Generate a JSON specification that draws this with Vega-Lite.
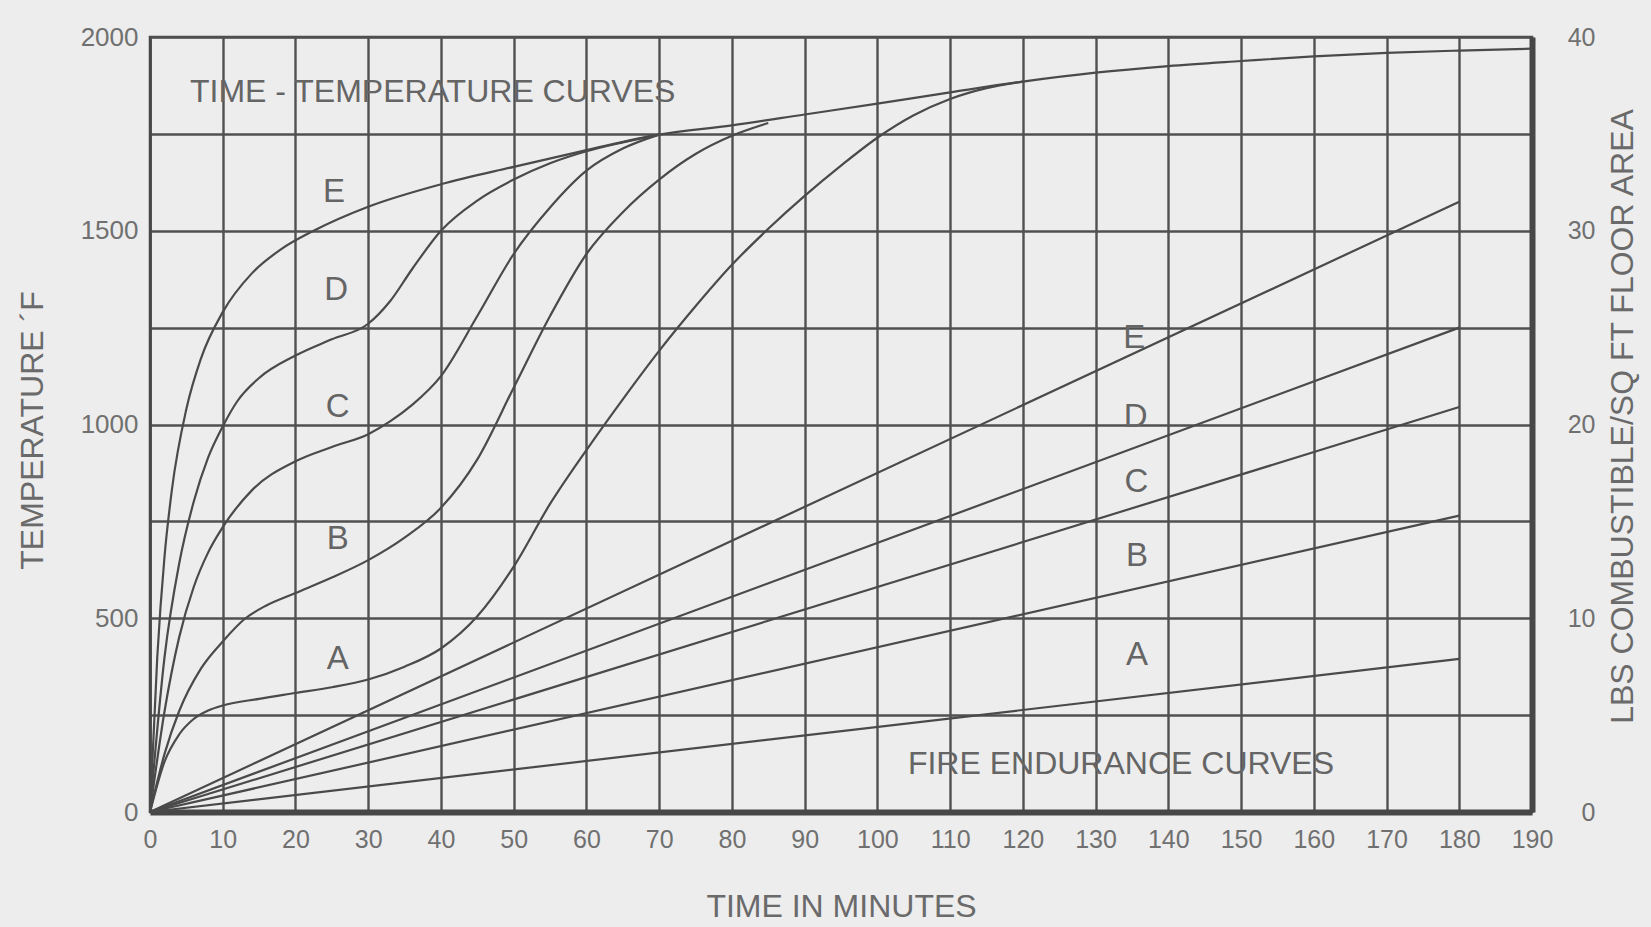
{
  "$schema": "https://vega.github.io/schema/vega-lite/v6.json",
  "width": 1382,
  "height": 775,
  "autosize": {"type": "none"},
  "padding": {"left": 150, "top": 37, "right": 119, "bottom": 115},
  "background": "#ededed",
  "config": {
    "font": "Liberation Sans",
    "view": {"stroke": "#474747", "strokeWidth": 2.5}
  },
  "datasets": {
    "timetemp": [
      {"curve": "E", "t": 0, "temp": 0}, {"curve": "E", "t": 1, "temp": 400}, {"curve": "E", "t": 2, "temp": 660}, {"curve": "E", "t": 3, "temp": 830}, {"curve": "E", "t": 5, "temp": 1040}, {"curve": "E", "t": 7, "temp": 1170}, {"curve": "E", "t": 10, "temp": 1290}, {"curve": "E", "t": 14, "temp": 1390}, {"curve": "E", "t": 18, "temp": 1452}, {"curve": "E", "t": 22.5, "temp": 1500}, {"curve": "E", "t": 30, "temp": 1562}, {"curve": "E", "t": 40, "temp": 1620}, {"curve": "E", "t": 50, "temp": 1665}, {"curve": "E", "t": 60, "temp": 1708}, {"curve": "E", "t": 70, "temp": 1748}, {"curve": "E", "t": 80, "temp": 1772}, {"curve": "E", "t": 90, "temp": 1800}, {"curve": "E", "t": 100, "temp": 1828}, {"curve": "E", "t": 110, "temp": 1857}, {"curve": "E", "t": 120, "temp": 1885}, {"curve": "E", "t": 130, "temp": 1908}, {"curve": "E", "t": 140, "temp": 1925}, {"curve": "E", "t": 150, "temp": 1938}, {"curve": "E", "t": 160, "temp": 1950}, {"curve": "E", "t": 170, "temp": 1959}, {"curve": "E", "t": 180, "temp": 1965}, {"curve": "E", "t": 190, "temp": 1970},
      {"curve": "D", "t": 0, "temp": 0}, {"curve": "D", "t": 2, "temp": 400}, {"curve": "D", "t": 4, "temp": 640}, {"curve": "D", "t": 6, "temp": 800}, {"curve": "D", "t": 8, "temp": 915}, {"curve": "D", "t": 10, "temp": 995}, {"curve": "D", "t": 12, "temp": 1060}, {"curve": "D", "t": 15, "temp": 1120}, {"curve": "D", "t": 20, "temp": 1178}, {"curve": "D", "t": 25, "temp": 1220}, {"curve": "D", "t": 30, "temp": 1260}, {"curve": "D", "t": 33, "temp": 1318}, {"curve": "D", "t": 36, "temp": 1400}, {"curve": "D", "t": 40, "temp": 1500}, {"curve": "D", "t": 45, "temp": 1578}, {"curve": "D", "t": 50, "temp": 1632}, {"curve": "D", "t": 55, "temp": 1674}, {"curve": "D", "t": 60, "temp": 1705}, {"curve": "D", "t": 65, "temp": 1728}, {"curve": "D", "t": 70, "temp": 1748},
      {"curve": "C", "t": 0, "temp": 0}, {"curve": "C", "t": 2, "temp": 260}, {"curve": "C", "t": 4, "temp": 450}, {"curve": "C", "t": 6, "temp": 580}, {"curve": "C", "t": 8, "temp": 670}, {"curve": "C", "t": 10, "temp": 735}, {"curve": "C", "t": 14, "temp": 830}, {"curve": "C", "t": 20, "temp": 905}, {"curve": "C", "t": 25, "temp": 942}, {"curve": "C", "t": 30, "temp": 975}, {"curve": "C", "t": 33, "temp": 1008}, {"curve": "C", "t": 36, "temp": 1050}, {"curve": "C", "t": 40, "temp": 1125}, {"curve": "C", "t": 45, "temp": 1280}, {"curve": "C", "t": 50, "temp": 1440}, {"curve": "C", "t": 55, "temp": 1560}, {"curve": "C", "t": 60, "temp": 1655}, {"curve": "C", "t": 65, "temp": 1712}, {"curve": "C", "t": 70, "temp": 1748},
      {"curve": "B", "t": 0, "temp": 0}, {"curve": "B", "t": 2, "temp": 150}, {"curve": "B", "t": 4, "temp": 260}, {"curve": "B", "t": 7, "temp": 370}, {"curve": "B", "t": 10, "temp": 440}, {"curve": "B", "t": 13, "temp": 498}, {"curve": "B", "t": 16, "temp": 533}, {"curve": "B", "t": 20, "temp": 565}, {"curve": "B", "t": 25, "temp": 605}, {"curve": "B", "t": 30, "temp": 650}, {"curve": "B", "t": 35, "temp": 708}, {"curve": "B", "t": 40, "temp": 785}, {"curve": "B", "t": 45, "temp": 910}, {"curve": "B", "t": 50, "temp": 1095}, {"curve": "B", "t": 55, "temp": 1280}, {"curve": "B", "t": 60, "temp": 1440}, {"curve": "B", "t": 65, "temp": 1548}, {"curve": "B", "t": 70, "temp": 1632}, {"curve": "B", "t": 75, "temp": 1698}, {"curve": "B", "t": 80, "temp": 1745}, {"curve": "B", "t": 85, "temp": 1778},
      {"curve": "A", "t": 0, "temp": 0}, {"curve": "A", "t": 2, "temp": 130}, {"curve": "A", "t": 4, "temp": 200}, {"curve": "A", "t": 6, "temp": 240}, {"curve": "A", "t": 8, "temp": 262}, {"curve": "A", "t": 10, "temp": 275}, {"curve": "A", "t": 15, "temp": 292}, {"curve": "A", "t": 20, "temp": 307}, {"curve": "A", "t": 25, "temp": 322}, {"curve": "A", "t": 30, "temp": 342}, {"curve": "A", "t": 35, "temp": 375}, {"curve": "A", "t": 40, "temp": 422}, {"curve": "A", "t": 45, "temp": 505}, {"curve": "A", "t": 50, "temp": 633}, {"curve": "A", "t": 55, "temp": 795}, {"curve": "A", "t": 60, "temp": 934}, {"curve": "A", "t": 65, "temp": 1065}, {"curve": "A", "t": 70, "temp": 1190}, {"curve": "A", "t": 75, "temp": 1305}, {"curve": "A", "t": 80, "temp": 1412}, {"curve": "A", "t": 85, "temp": 1505}, {"curve": "A", "t": 90, "temp": 1590}, {"curve": "A", "t": 95, "temp": 1668}, {"curve": "A", "t": 100, "temp": 1740}, {"curve": "A", "t": 105, "temp": 1798}, {"curve": "A", "t": 110, "temp": 1840}, {"curve": "A", "t": 115, "temp": 1868}, {"curve": "A", "t": 120, "temp": 1885}
    ],
    "endurance": [
      {"curve": "E", "t": 0, "lbs": 0}, {"curve": "E", "t": 180, "lbs": 31.5},
      {"curve": "D", "t": 0, "lbs": 0}, {"curve": "D", "t": 180, "lbs": 25},
      {"curve": "C", "t": 0, "lbs": 0}, {"curve": "C", "t": 180, "lbs": 20.9},
      {"curve": "B", "t": 0, "lbs": 0}, {"curve": "B", "t": 180, "lbs": 15.3},
      {"curve": "A", "t": 0, "lbs": 0}, {"curve": "A", "t": 180, "lbs": 7.9}
    ],
    "letters": [
      {"label": "E", "t": 25.3, "temp": 1600}, {"label": "D", "t": 25.6, "temp": 1348}, {"label": "C", "t": 25.8, "temp": 1044}, {"label": "B", "t": 25.8, "temp": 704}, {"label": "A", "t": 25.8, "temp": 395},
      {"label": "E", "t": 135.3, "temp": 1224}, {"label": "D", "t": 135.5, "temp": 1019}, {"label": "C", "t": 135.6, "temp": 852}, {"label": "B", "t": 135.7, "temp": 661}, {"label": "A", "t": 135.7, "temp": 404}
    ],
    "titles": [
      {"text": "TIME - TEMPERATURE CURVES", "t": 5.5, "temp": 1858},
      {"text": "FIRE ENDURANCE CURVES", "t": 104.2, "temp": 125}
    ]
  },
  "encoding": {
    "x": {
      "field": "t", "type": "quantitative",
      "scale": {"domain": [0, 190], "nice": false, "zero": false},
      "axis": {
        "values": [0, 10, 20, 30, 40, 50, 60, 70, 80, 90, 100, 110, 120, 130, 140, 150, 160, 170, 180, 190],
        "title": "TIME IN MINUTES",
        "grid": true, "gridColor": "#505050", "gridWidth": 2.4, "gridOpacity": 1,
        "domainColor": "#474747", "domainWidth": 6,
        "ticks": false,
        "labelFontSize": 25, "labelColor": "#707070", "labelPadding": 15, "labelFlush": false,
        "titleFontSize": 32, "titleFontWeight": "normal", "titleColor": "#6a6a6a",
        "titleY": 94, "titleBaseline": "middle"
      }
    }
  },
  "layer": [
    {
      "data": {"name": "timetemp"},
      "mark": {"type": "line", "interpolate": "monotone", "color": "#4a4a4a", "strokeWidth": 2.2},
      "encoding": {
        "y": {
          "field": "temp", "type": "quantitative",
          "scale": {"domain": [0, 2000], "nice": false},
          "axis": {
            "values": [0, 250, 500, 750, 1000, 1250, 1500, 1750, 2000],
            "labelExpr": "datum.value % 500 === 0 ? datum.value : ''",
            "title": "TEMPERATURE ´F",
            "grid": true, "gridColor": "#505050", "gridWidth": 2.4, "gridOpacity": 1,
            "domainColor": "#474747", "domainWidth": 2.5,
            "ticks": false,
            "labelFontSize": 26, "labelColor": "#707070", "labelPadding": 12,
            "titleFontSize": 32, "titleFontWeight": "normal", "titleColor": "#6a6a6a",
            "titleAngle": -90, "titleX": -118, "titleY": 393, "titleAlign": "center", "titleBaseline": "middle"
          }
        },
        "detail": {"field": "curve"}
      }
    },
    {
      "data": {"name": "endurance"},
      "mark": {"type": "line", "color": "#4a4a4a", "strokeWidth": 2.2},
      "encoding": {
        "y": {
          "field": "lbs", "type": "quantitative",
          "scale": {"domain": [0, 40], "nice": false},
          "axis": {
            "orient": "right",
            "values": [0, 10, 20, 30, 40],
            "title": "LBS COMBUSTIBLE/SQ FT FLOOR AREA",
            "grid": false,
            "domainColor": "#474747", "domainWidth": 6,
            "ticks": false,
            "labelFontSize": 25, "labelColor": "#707070", "labelPadding": 63, "labelAlign": "right",
            "titleFontSize": 32, "titleFontWeight": "normal", "titleColor": "#6a6a6a",
            "titleAngle": -90, "titleX": 90, "titleY": 379, "titleAlign": "center", "titleBaseline": "middle"
          }
        },
        "detail": {"field": "curve"}
      }
    },
    {
      "data": {"name": "letters"},
      "mark": {"type": "text", "fontSize": 33, "color": "#656565", "align": "center", "baseline": "middle"},
      "encoding": {
        "y": {"field": "temp", "type": "quantitative", "scale": {"domain": [0, 2000], "nice": false}, "axis": null},
        "text": {"field": "label"}
      }
    },
    {
      "data": {"name": "titles"},
      "mark": {"type": "text", "fontSize": 32, "color": "#656565", "align": "left", "baseline": "middle"},
      "encoding": {
        "y": {"field": "temp", "type": "quantitative", "scale": {"domain": [0, 2000], "nice": false}, "axis": null},
        "text": {"field": "text"}
      }
    }
  ],
  "resolve": {"scale": {"y": "independent"}}
}
